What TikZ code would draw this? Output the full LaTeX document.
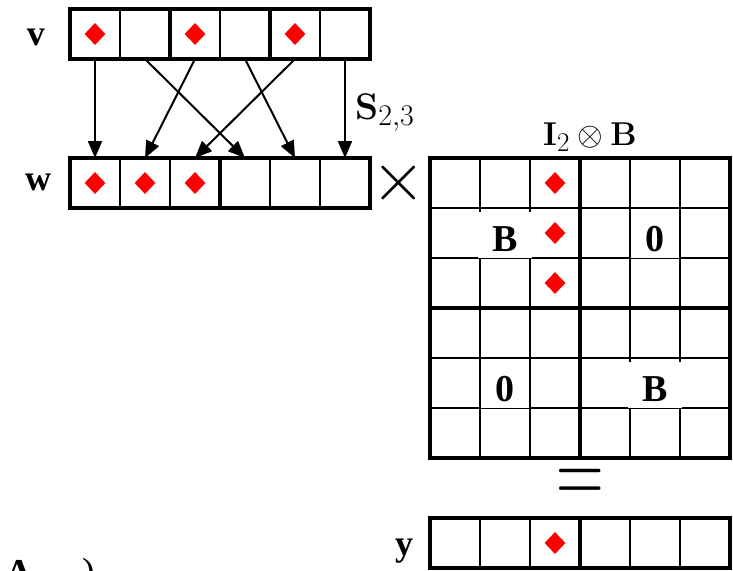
\RequirePackage{fix-cm}
\documentclass[tikz,border=0pt]{standalone}
\usepackage{amsmath,amssymb}
\usepackage[no-math]{fontspec}
\setmainfont{Liberation Serif}
\usepackage{tikz}
\usetikzlibrary{shapes.geometric, arrows.meta, positioning}
% scalable bold upright math letters
\DeclareFontFamily{OT1}{cmbig}{}
\DeclareFontShape{OT1}{cmbig}{bx}{n}{<->cmbx12}{}
\DeclareMathAlphabet{\mathbx}{OT1}{cmbig}{bx}{n}
\newcommand{\bigsub}[2]{\hbox{\fontsize{#1}{#1}\selectfont$#2$}}

\begin{document}
\begin{tikzpicture}[
    x=1pt, y=-1pt,
    cell/.style={draw, line width=1.8pt, minimum size=50pt, inner sep=0pt, outer sep=0pt},
    gem/.style={diamond, fill=red, inner sep=0pt, minimum width=21pt, minimum height=22pt},
    frame/.style={line width=4pt},
    arr/.style={-{Triangle[length=17pt, width=14pt]}, line width=2pt},
    lbl/.style={inner sep=0pt, anchor=base, font=\fontsize{36}{36}\selectfont\bfseries},
    blk/.style={fill=white, inner sep=0pt, minimum width=#1, minimum height=46pt,
        text height=32pt, text depth=0pt, font=\fontsize{38}{38}\selectfont\bfseries},
    blk/.default=48pt,
    op/.style={inner sep=0pt, font=\fontsize{#1}{#1}\selectfont}
]
    \useasboundingbox (0,0) rectangle (733,570);

    % vector v, groups of two
    \foreach \i in {1,...,6}
        \node[cell] (v\i) at (45+50*\i, 34) {};
    \draw[frame] (v1.north west) rectangle (v6.south east);
    \foreach \i in {2,4}
        \draw[frame] (v\i.north east) -- (v\i.south east);
    \foreach \i in {1,3,5}
        \node[gem] (dv\i) at (v\i) {};
    \node[lbl] (vlab) at (36,45) {v};

    % vector w, groups of three
    \foreach \i in {1,...,6}
        \node[cell] (w\i) at (45+50*\i, 183) {};
    \draw[frame] (w1.north west) rectangle (w6.south east);
    \draw[frame] (w3.north east) -- (w3.south east);
    \foreach \i in {1,2,3}
        \node[gem] (dw\i) at (w\i) {};
    \node[lbl] (wlab) at (38,190) {w};

    % stride permutation
    \foreach \s/\t in {1/1,2/4,3/2,4/5,5/3,6/6}
        \draw[arr] (v\s.south) -- (w\t.north);
    \node[op=37, anchor=base west] (perm) at (355,119) {$\mathbx{S}_{\bigsub{30}{2{,}3}}$};

    % block matrix I_2 (x) B
    \foreach \r in {1,...,6}
        \foreach \c in {1,...,6}
            \node[cell] (m\r\c) at (405+50*\c, 133+50*\r) {};
    \draw[frame] (m11.north west) rectangle (m66.south east);
    \draw[frame] (m13.north east) -- (m63.south east);
    \draw[frame] (m31.south west) -- (m36.south east);
    \foreach \r in {1,2,3}
        \node[gem] (dm\r) at (m\r3) {};
    \node[blk=54pt] (bB1) at ([yshift=-2pt]m22) {B};
    \node[blk] (bZ1) at ([yshift=-2pt]m25) {0};
    \node[blk] (bZ2) at ([yshift=-2pt]m52) {0};
    \node[blk=54pt] (bB2) at ([yshift=-2pt]m55) {B};
    \node[op=33, anchor=base west] (kron) at (543,145) {$\mathbx{I}_{\bigsub{27}{2}}\otimes\mathbx{B}$};

    \node[op=70] (times) at (399,183) {$\times$};
    \node[op=66] (equals) at (580,487) {\scalebox{1}[1.5]{$=$}};

    % result y
    \foreach \i in {1,...,6}
        \node[cell] (y\i) at (405+50*\i, 543) {};
    \draw[frame] (y1.north west) rectangle (y6.south east);
    \draw[frame] (y3.north east) -- (y3.south east);
    \node[gem] (dy3) at (y3) {};
    \node[lbl] (ylab) at (404,555) {y};

    % cut-off caption
    \begin{scope}
        \clip (0,0) rectangle (733,570);
        \node[lbl, font=\fontsize{38}{38}\selectfont\bfseries] (capA) at (19,585) {A};
        \node[lbl, font=\fontsize{38}{38}\selectfont] (capP) at (89,584) {)};
    \end{scope}
\end{tikzpicture}
\end{document}
